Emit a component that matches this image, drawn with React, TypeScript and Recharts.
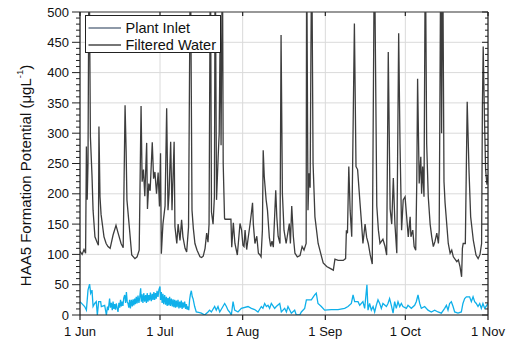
import React from 'react';
import { LineChart, Line, XAxis, YAxis, CartesianGrid, Legend, Label } from 'recharts';

// x = days since 1 Jun, y = HAA5 formation potential (µg/L)
const monthTicks = [0, 30, 61, 92, 122, 153];
const monthLabels = ['1 Jun', '1 Jul', '1 Aug', '1 Sep', '1 Oct', '1 Nov'];
const yMajorTicks = [0, 50, 100, 150, 200, 250, 300, 350, 400, 450, 500];
const yAllTicks = [
  0, 10, 20, 30, 40, 50, 60, 70, 80, 90, 100, 110, 120, 130, 140, 150, 160, 170, 180, 190, 200,
  210, 220, 230, 240, 250, 260, 270, 280, 290, 300, 310, 320, 330, 340, 350, 360, 370, 380, 390, 400,
  410, 420, 430, 440, 450, 460, 470, 480, 490, 500,
];
const seriesNames = ['Plant Inlet', 'Filtered Water'];
const yTitle = 'HAA5 Formation Potential (\u03bcgL';
const yTitleSup = '-1';

const plantInlet: [number, number][] = [
  [0, 105], [0.8, 100], [1.5, 108], [2.1, 102], [2.4, 278], [2.7, 190], [3.0, 250], [3.4, 620],
  [3.9, 294], [4.5, 230], [4.9, 173], [5.6, 129], [6.4, 120], [6.9, 115], [7.1, 311], [7.5, 195],
  [7.9, 166], [9.0, 129], [9.8, 118], [10.5, 113], [11.3, 110], [12.4, 132], [13.5, 148], [14.3, 135],
  [15.4, 118], [16.2, 111], [16.9, 346], [17.3, 270], [17.6, 190], [18.4, 150], [19.4, 99], [20.6, 93],
  [21.4, 96], [22.2, 107], [22.9, 345], [23.3, 220], [23.8, 240], [24.3, 196], [25.0, 284], [25.3, 175],
  [25.8, 217], [26.3, 205], [27.1, 285], [27.6, 225], [28.1, 236], [28.7, 200], [29.3, 235], [29.8, 179],
  [30.2, 267], [30.5, 101], [31.1, 150], [31.9, 180], [32.5, 341], [33.0, 173], [33.4, 200], [34.0, 286],
  [34.5, 173], [35.3, 286], [35.6, 146], [36.3, 118], [36.8, 150], [37.5, 123], [38.1, 157], [38.6, 129],
  [39.4, 110], [40.0, 104], [40.7, 145], [41.4, 620], [42.0, 173], [42.5, 143], [43.1, 118], [43.9, 107],
  [45.0, 96], [45.6, 95], [46.2, 97], [46.9, 110], [47.5, 135], [48.0, 120], [48.4, 150], [48.9, 620],
  [49.3, 170], [49.9, 150], [50.4, 195], [50.7, 620], [51.2, 190], [51.8, 260], [52.2, 300], [52.6, 490],
  [52.9, 280], [53.4, 620], [53.7, 250], [54.2, 160], [54.4, 158], [56.6, 158], [56.9, 112], [57.5, 152],
  [58.1, 118], [59.0, 99], [60.0, 151], [60.6, 140], [61.1, 115], [61.5, 113], [61.9, 140], [62.5, 108],
  [63.0, 125], [63.8, 151], [64.4, 173], [64.7, 185], [65.0, 150], [65.6, 118], [66.3, 130], [66.9, 102],
  [67.5, 99], [67.9, 96], [68.4, 140], [68.7, 272], [69.1, 228], [69.8, 190], [70.3, 173], [71.0, 128],
  [71.5, 113], [72.0, 122], [72.5, 112], [73.4, 206], [73.8, 162], [74.3, 130], [75.0, 118], [75.4, 462],
  [75.9, 200], [76.5, 140], [77.3, 118], [78.5, 151], [78.9, 118], [79.4, 180], [80.0, 130], [80.6, 102],
  [81.5, 96], [82.5, 98], [83.3, 113], [84.0, 107], [84.8, 118], [85.0, 620], [85.5, 173], [85.9, 234],
  [86.3, 210], [86.6, 437], [86.9, 620], [87.4, 250], [88.1, 162], [89.3, 118], [90.6, 96], [91.2, 86],
  [92.5, 80], [93.8, 77], [95.0, 74], [95.6, 92], [96.8, 90], [98.7, 90], [99.6, 93], [99.9, 140],
  [100.3, 135], [100.8, 245], [101.3, 173], [101.9, 129], [102.9, 481], [103.5, 245], [104.1, 240], [105.0, 185],
  [105.6, 150], [106.1, 118], [106.9, 150], [107.5, 128], [108.1, 118], [108.8, 100], [109.6, 84], [110.4, 620],
  [111.3, 180], [111.9, 140], [112.5, 118], [113.6, 125], [114.4, 113], [115.0, 99], [115.6, 434], [116.3, 175],
  [116.9, 150], [117.5, 226], [118.1, 150], [118.8, 102], [119.5, 465], [120.0, 283], [120.6, 140], [121.2, 190],
  [121.9, 195], [122.5, 162], [123.1, 129], [123.8, 162], [124.1, 129], [124.8, 140], [125.3, 113], [125.9, 107],
  [126.3, 223], [126.6, 390], [127.2, 217], [127.8, 261], [128.1, 200], [128.5, 245], [129.0, 195], [129.5, 620],
  [130.0, 283], [130.6, 195], [131.3, 150], [131.9, 129], [132.5, 113], [133.1, 121], [133.8, 135], [134.4, 118],
  [134.7, 140], [135.3, 620], [135.6, 300], [136.0, 620], [136.5, 220], [136.9, 185], [138.1, 118], [138.8, 102],
  [139.4, 107], [140.0, 96], [141.3, 88], [141.9, 91], [142.5, 80], [143.1, 63], [143.4, 110], [143.7, 118],
  [144.5, 118], [145.2, 352], [145.9, 235], [146.5, 162], [147.5, 123], [148.5, 99], [149.3, 93], [150.0, 100],
  [150.6, 118], [150.9, 344], [151.2, 443], [151.7, 320], [152.1, 240], [152.6, 215], [153.0, 230],
];

const filteredWater: [number, number][] = [
  [0, 22], [1.75, 14], [2.4, 8], [3.0, 41], [3.6, 51], [4.0, 36], [4.5, 41], [4.9, 14], [5.5, 19],
  [6.1, 22], [6.5, 0], [7.0, 22], [7.75, 22], [8.0, 14], [9.25, 16], [9.9, 0],
  [10.3, 14], [10.6, 8], [11.1, 27], [11.4, 12], [11.75, 20], [12.1, 8], [12.4, 22], [12.7, 10], [13.0, 18],
  [13.3, 9], [13.6, 19], [13.9, 12], [14.25, 5], [14.6, 20], [14.9, 12], [15.2, 25], [15.5, 14], [15.8, 22],
  [16.1, 15], [16.4, 28], [16.75, 33], [17.1, 20], [17.4, 38], [17.7, 22], [18.0, 19], [18.3, 12], [18.6, 25],
  [18.9, 11], [19.25, 25], [19.6, 14], [19.9, 26], [20.2, 16], [20.5, 27], [20.8, 18], [21.1, 30], [21.4, 19],
  [21.75, 32], [22.1, 20], [22.4, 29], [22.75, 44], [23.0, 22], [23.25, 34], [23.6, 20], [23.9, 36], [24.25, 22],
  [24.6, 33], [24.9, 20], [25.2, 36], [25.5, 22], [25.8, 33], [26.1, 24], [26.4, 37], [26.75, 23], [27.1, 35],
  [27.4, 25], [27.7, 38], [28.0, 25], [28.3, 36], [28.6, 27], [28.9, 40], [29.25, 30], [29.6, 42], [30.0, 47],
  [30.2, 25], [30.5, 38], [30.8, 20], [31.1, 35], [31.4, 18], [31.75, 33], [32.1, 17], [32.4, 30], [32.7, 15],
  [33.0, 28], [33.3, 16], [33.6, 30], [33.9, 15], [34.25, 27], [34.6, 14], [34.9, 26], [35.2, 13], [35.5, 25],
  [35.8, 12], [36.1, 24], [36.4, 13], [36.75, 25], [37.1, 11], [37.4, 22], [37.7, 12], [38.0, 24], [38.3, 10],
  [38.6, 21], [38.9, 12], [39.25, 22], [39.6, 10], [39.9, 18], [40.2, 9], [40.5, 14], [40.8, 8], [41.1, 25],
  [41.4, 34], [41.75, 40], [42.1, 30], [42.4, 27], [43.0, 14],
  [43.6, 5], [44.9, 4], [45.5, 3], [46.75, 0], [48.0, 5], [48.6, 8], [49.25, 5], [50.5, 14], [51.1, 8],
  [51.75, 14], [52.4, 5], [53.6, 14], [54.25, 19], [54.9, 14], [55.5, 8], [56.1, 5], [56.75, 0], [57.4, 22],
  [58.0, 8], [59.25, 5], [60.5, 11], [63.0, 14], [64.25, 11], [65.5, 9], [66.75, 5], [68.0, 14], [68.6, 11],
  [69.25, 19], [69.9, 14], [70.5, 16], [71.1, 11], [71.75, 19], [73.0, 11], [73.6, 14], [74.9, 19], [75.5, 5],
  [76.75, 11], [77.4, 5], [78.0, 14], [79.25, 3], [80.5, 8], [81.1, 0], [82.4, 0], [83.0, 5], [84.25, 11],
  [84.9, 25], [86.75, 25], [88.0, 33], [88.6, 36], [89.25, 19], [90.5, 14], [91.75, 8], [94.25, 9], [96.75, 9],
  [99.25, 11], [100.5, 14], [101.75, 19], [102.4, 33], [103.0, 22], [104.25, 22], [104.9, 16], [106.1, 22],
  [106.75, 11], [107.6, 50], [108.0, 8], [108.6, 19], [109.25, 8], [109.9, 14], [110.5, 5], [111.1, 16],
  [111.75, 25], [112.4, 19], [113.0, 11], [113.6, 19], [114.9, 14], [115.5, 19], [116.1, 27], [116.75, 16],
  [117.4, 3], [118.0, 22], [118.6, 11], [119.25, 22], [119.9, 14], [120.5, 19], [121.1, 14], [122.4, 11],
  [123.0, 16], [124.25, 11], [125.5, 16], [126.1, 22], [126.75, 33], [127.4, 19], [128.0, 11], [129.25, 14],
  [130.5, 8], [131.75, 5], [133.0, 8], [134.25, 5], [135.5, 3], [136.75, 11], [137.4, 16], [138.0, 8],
  [138.6, 19], [139.25, 22], [139.9, 14], [140.5, 5], [141.75, 3], [143.0, 5], [143.6, 19], [144.25, 27],
  [144.9, 30], [146.1, 30], [146.75, 22], [147.4, 30], [148.0, 22], [148.6, 19], [149.25, 14], [149.9, 19],
  [150.5, 11], [151.1, 19], [151.75, 11], [153.0, 19],
];

const plantData = plantInlet.map(([d, v]) => ({ d, v }));
const filteredData = filteredWater.map(([d, v]) => ({ d, v }));

const FONT = '"Liberation Sans", Arial, sans-serif';
const AXIS = '#222';

const LeftTick = (props: any) => {
  const { x, y, payload } = props;
  const major = payload.value % 50 === 0;
  return (
    <g>
      <line x1={x - (major ? 8 : 4)} x2={x} y1={y} y2={y} stroke={AXIS} strokeWidth={1} />
      {major && (
        <text x={x - 11} y={y} dy={4.6} textAnchor="end" fontSize={13} fill="#111" fontFamily={FONT}>
          {payload.value}
        </text>
      )}
    </g>
  );
};

const RightTick = (props: any) => {
  const { x, y, payload } = props;
  const major = payload.value % 50 === 0;
  return <line x1={x} x2={x - (major ? 6 : 3)} y1={y} y2={y} stroke={AXIS} strokeWidth={1} />;
};

const TopTick = (props: any) => {
  const { x, y } = props;
  return <line x1={x} x2={x} y1={y} y2={y + 4} stroke={AXIS} strokeWidth={1.2} />;
};

const BottomTick = (props: any) => {
  const { x, y, index } = props;
  return (
    <text x={x} y={y} dy={14} textAnchor="middle" fontSize={13} fill="#111" fontFamily={FONT}>
      {monthLabels[index]}
    </text>
  );
};

const YTitle = (props: any) => {
  const vb = props.viewBox || { x: 0, y: 0, width: 72, height: 303 };
  const cx = vb.x + 17;
  const cy = vb.y + vb.height / 2 + 12;
  return (
    <text
      x={cx}
      y={cy}
      transform={`rotate(-90, ${cx}, ${cy})`}
      textAnchor="middle"
      dominantBaseline="central"
      fontSize={15}
      fill="#111"
      fontFamily={FONT}
    >
      {yTitle}
      <tspan dy={-6} fontSize={9.5}>{yTitleSup}</tspan>
      <tspan dy={6}>)</tspan>
    </text>
  );
};

const legendColors = ['#1f3452', '#767676'];
const legendWidths = [1.2, 2.2];

const LegendBox = () => (
  <div style={{ width: 134, height: 36, border: '1px solid #222', background: '#fff', lineHeight: 0 }}>
    <svg width={134} height={36}>
      {seriesNames.map((name, i) => (
        <g key={name}>
          <line x1={2.5} x2={35} y1={12 + i * 17} y2={12 + i * 17} stroke={legendColors[i]} strokeWidth={legendWidths[i]} />
          <text x={39.5} y={12 + i * 17} dy={5.2} fontSize={14.5} fill="#111" fontFamily={FONT}>
            {name}
          </text>
        </g>
      ))}
    </svg>
  </div>
);

export default function App() {
  return (
    <div style={{ marginTop: -5 }}>
      <LineChart width={500} height={340} margin={{ top: 8, right: 19, bottom: 0, left: 0 }}>
        <CartesianGrid xAxisId="bottom" yAxisId="grid" stroke="#dadada" strokeWidth={1} />
        <XAxis
          xAxisId="bottom"
          dataKey="d"
          type="number"
          domain={[0, 153]}
          ticks={monthTicks}
          interval={0}
          height={28}
          axisLine={{ stroke: AXIS, strokeWidth: 1.2 }}
          tickLine={{ stroke: AXIS, strokeWidth: 1.2 }}
          tickSize={5}
          tickMargin={2}
          tick={<BottomTick />}
          allowDataOverflow
        />
        <XAxis
          xAxisId="top"
          orientation="top"
          dataKey="d"
          type="number"
          domain={[0, 153]}
          ticks={monthTicks}
          interval={0}
          height={1}
          axisLine={{ stroke: '#444', strokeWidth: 1.2 }}
          tickLine={false}
          tickSize={0}
          tickMargin={0}
          tick={<TopTick />}
          allowDataOverflow
        />
        <YAxis
          yAxisId="left"
          type="number"
          domain={[0, 500]}
          ticks={yAllTicks}
          interval={0}
          width={72}
          axisLine={{ stroke: AXIS, strokeWidth: 1.2 }}
          tickLine={false}
          tickSize={0}
          tickMargin={0}
          tick={<LeftTick />}
          allowDataOverflow
        >
          <Label content={<YTitle />} />
        </YAxis>
        <YAxis
          yAxisId="right"
          orientation="right"
          type="number"
          domain={[0, 500]}
          ticks={yAllTicks}
          interval={0}
          width={1}
          axisLine={{ stroke: AXIS, strokeWidth: 1.2 }}
          tickLine={false}
          tickSize={0}
          tickMargin={0}
          tick={<RightTick />}
          allowDataOverflow
        />
        <YAxis
          yAxisId="grid"
          orientation="right"
          hide
          width={0}
          type="number"
          domain={[0, 500]}
          ticks={yMajorTicks}
          interval={0}
          allowDataOverflow
        />
        <Legend
          layout="horizontal"
          verticalAlign="middle"
          align="center"
          content={<LegendBox />}
          wrapperStyle={{ left: 77, top: 12, width: 136, height: 38 }}
        />
        <Line
          xAxisId="bottom"
          yAxisId="left"
          data={plantData}
          dataKey="v"
          name={seriesNames[0]}
          type="linear"
          stroke="#3d3d3d"
          strokeWidth={1.3}
          dot={false}
          activeDot={false}
          isAnimationActive={false}
        />
        <Line
          xAxisId="bottom"
          yAxisId="left"
          data={filteredData}
          dataKey="v"
          name={seriesNames[1]}
          type="linear"
          stroke="#0fb0ea"
          strokeWidth={1.3}
          dot={false}
          activeDot={false}
          isAnimationActive={false}
        />
      </LineChart>
    </div>
  );
}
